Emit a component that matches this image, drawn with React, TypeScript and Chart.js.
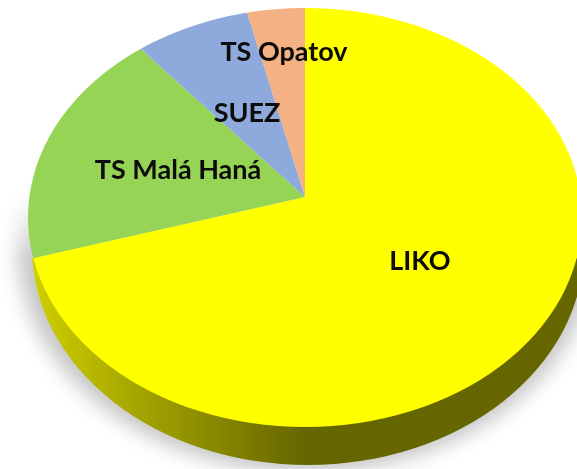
import React, { useEffect, useRef } from "react";
import { Chart, registerables } from "chart.js";

Chart.register(...registerables);

const categories = ["LIKO", "TS Malá Haná", "SUEZ", "TS Opatov"];
const shares = [70.4, 18.5, 7.4, 3.7];
const sliceColors = ["#FFFF00", "#96D455", "#8EA9DB", "#F4B183"];

const W = 577;
const H = 469;
const APEX = { x: 305, y: 197 };
const TOP = { cx: 305, cy: 217.5, rx: 277, ry: 209.5 };
const BOTTOM = { cx: 308, cy: 248, rx: 276, ry: 217 };
const SHADOW = { cx: 306, cy: 248, rx: 288, ry: 224 };
const TILT = 0.755;
const labelAnchors = [
  { x: 420, y: 261 },
  { x: 178, y: 170 },
  { x: 247, y: 113 },
  { x: 284, y: 52 },
];

const ellipse = (ctx: CanvasRenderingContext2D, e: typeof TOP) => {
  ctx.beginPath();
  ctx.ellipse(e.cx, e.cy, e.rx, e.ry, 0, 0, Math.PI * 2);
  ctx.closePath();
};

const pie3d = {
  id: "pie3d",
  beforeDatasetsDraw(chart: any) {
    const ctx: CanvasRenderingContext2D = chart.ctx;
    // soft shadow under the disc (shape drawn off-canvas, only its shadow lands here)
    ctx.save();
    ctx.shadowColor = "rgba(0,0,0,0.23)";
    ctx.shadowBlur = 20;
    ctx.shadowOffsetX = 2000;
    ctx.shadowOffsetY = 0;
    ctx.fillStyle = "#000";
    ctx.translate(-2000, 0);
    ellipse(ctx, SHADOW);
    ctx.fill();
    ctx.restore();
    ctx.save();
    const fade = ctx.createLinearGradient(0, 190, 0, 260);
    fade.addColorStop(0, "rgba(0,0,0,1)");
    fade.addColorStop(1, "rgba(0,0,0,0)");
    ctx.globalCompositeOperation = "destination-out";
    ctx.fillStyle = fade;
    ctx.fillRect(0, 0, W, 260);
    ctx.restore();

    // rim
    ctx.save();
    ctx.beginPath();
    ctx.rect(0, 258, W, H - 258);
    ctx.clip();
    const g = ctx.createLinearGradient(33, 0, 305, 0);
    g.addColorStop(0, "#CFCF00");
    g.addColorStop(0.35, "#A8A800");
    g.addColorStop(1, "#666600");
    ctx.fillStyle = g;
    ellipse(ctx, BOTTOM);
    ctx.fill();
    ctx.restore();

    // top face: the library's arcs, tilted about the apex, cut to the disc outline
    const arc = chart.getDatasetMeta(0).data[0];
    const k = 330 / arc.outerRadius;
    ctx.save();
    ellipse(ctx, TOP);
    ctx.clip();
    ctx.translate(APEX.x, APEX.y);
    ctx.scale(k, k * TILT);
    ctx.translate(-arc.x, -arc.y);
  },
  afterDatasetsDraw(chart: any) {
    const ctx: CanvasRenderingContext2D = chart.ctx;
    ctx.restore();
    ctx.save();
    ctx.fillStyle = "#0c0c0c";
    ctx.font = 'bold 27px Lato, "Open Sans", sans-serif';
    ctx.textAlign = "center";
    ctx.textBaseline = "middle";
    categories.forEach((c, i) => ctx.fillText(c, labelAnchors[i].x, labelAnchors[i].y));
    ctx.restore();
  },
};

export default function App() {
  const ref = useRef<HTMLCanvasElement>(null);
  useEffect(() => {
    const chart = new Chart(ref.current!, {
      type: "pie",
      data: {
        labels: categories,
        datasets: [
          {
            data: shares,
            backgroundColor: sliceColors,
            borderWidth: 0,
            clip: false,
          } as any,
        ],
      },
      options: {
        animation: false,
        responsive: false,
        layout: { padding: 0 },
        plugins: { legend: { display: false }, tooltip: { enabled: false }, title: { display: false } },
      },
      plugins: [pie3d],
    });
    return () => chart.destroy();
  }, []);
  return (
    <div style={{ position: "absolute", left: 0, top: 0, width: W, height: H, overflow: "hidden", background: "#fff" }}>
      <canvas ref={ref} width={W} height={H} style={{ display: "block", filter: "blur(0.45px)" }} />
    </div>
  );
}
